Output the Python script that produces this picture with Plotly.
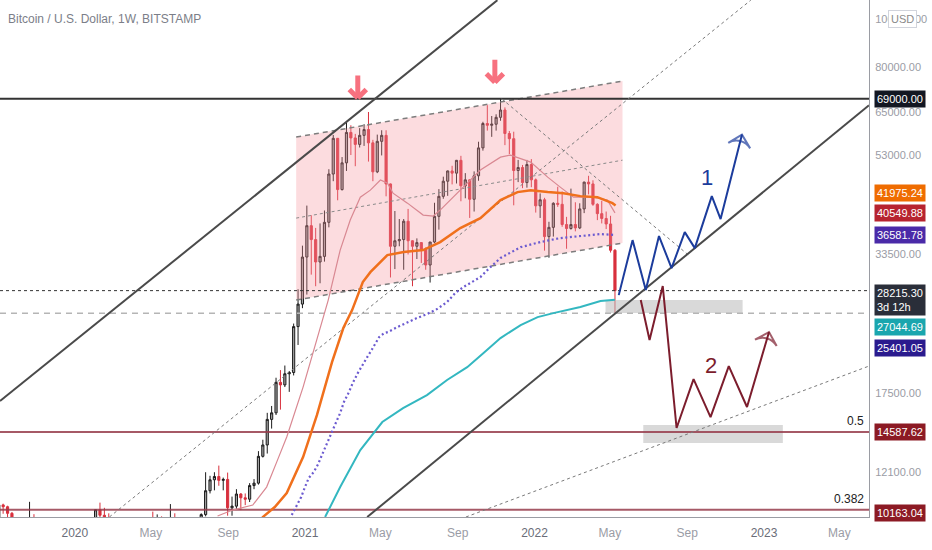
import numpy as np
import pandas as pd
import plotly.graph_objects as go

# ---------------- weekly candles (BITSTAMP BTCUSD, 1W) ----------------
open_2019 = [9600, 10390, 10300, 9990, 8240, 7870, 8290, 7960, 9250, 9200, 8800, 8480, 7050, 7400, 7520, 7080, 7200, 7300]
high_2019 = [10920, 10450, 10350, 10050, 8530, 8700, 8400, 10540, 9950, 9500, 9100, 8500, 7900, 7760, 7630, 7500, 7690, 7490]
low_2019 = [9590, 9970, 9600, 7710, 7750, 7750, 7880, 7300, 8970, 8680, 8340, 6550, 6600, 7080, 7040, 6420, 7100, 6870]
close_2019 = [10390, 10300, 9990, 8240, 7870, 8290, 7960, 9250, 9200, 8800, 8480, 7050, 7400, 7520, 7080, 7200, 7300, 7760]

open_2020 = [7760, 8190, 8900, 8600, 9330, 10160, 9900, 9690, 8540, 8040, 5360, 5830, 6400, 6780, 6900, 7120, 7700,
             8890, 8720, 9670, 8720, 9450, 9750, 9340, 9300, 9010, 9080, 9240, 9160, 9930, 11100, 11680, 11860, 11650,
             11700, 10250, 10330, 10930, 10740, 10670, 11370, 11500, 13030, 13740, 15480, 15960, 18400, 18180, 19150,
             19260, 23860, 26500]
high_2020 = [8460, 9190, 8990, 9560, 10160, 10500, 10250, 9990, 9200, 8170, 6900, 6980, 7200, 7470, 7300, 7790, 9470,
             10070, 9940, 9850, 9590, 10430, 9990, 9580, 9800, 9300, 9460, 9280, 9990, 12100, 11900, 12100, 12480, 11800,
             12080, 10800, 11180, 10980, 10960, 11500, 11720, 13350, 14080, 15960, 16480, 18800, 19480, 19900, 19400,
             24200, 28400, 34800]
low_2020 = [7690, 8100, 8230, 8540, 9130, 9700, 9300, 8450, 8000, 3850, 4450, 5690, 5860, 6770, 6470, 6800, 7640,
            8130, 8100, 8620, 8630, 9250, 8900, 9200, 8840, 8900, 9050, 9000, 9050, 9850, 10960, 11120, 11360, 11120,
            9880, 9880, 10200, 10140, 10380, 10530, 11180, 11420, 12960, 13200, 14830, 15800, 16200, 18000, 17600,
            19000, 21900, 26000]
close_2020 = [8190, 8900, 8600, 9330, 10160, 9900, 9690, 8540, 8040, 5360, 5830, 6400, 6780, 6900, 7120, 7700, 8890,
              8720, 9670, 8720, 9450, 9750, 9340, 9300, 9010, 9080, 9240, 9160, 9930, 11100, 11680, 11860, 11650, 11700,
              10250, 10330, 10930, 10740, 10670, 11370, 11500, 13030, 13740, 15480, 15960, 18400, 18180, 19150, 19260,
              23860, 26500, 33000]

open_2021 = [33000, 38200, 35800, 32250, 33100, 38800, 48600, 57400, 45200, 51200, 59000, 57500, 55800, 58200, 59800,
             56200, 49100, 56600, 58200, 46400, 34700, 35600, 35800, 39000, 35600, 34700, 35300, 34250, 31800, 35400,
             39900, 43800, 47000, 49300, 48800, 51800, 46000, 47300, 43200, 48200, 54900, 61500, 61000, 61300, 63300,
             65500, 58700, 57300, 49400, 50100, 46700, 50800]
high_2021 = [41950, 40100, 37800, 38600, 41000, 49700, 58300, 57500, 52600, 61800, 61000, 58600, 60200, 61300, 64900,
             57000, 58400, 59600, 59600, 46500, 40900, 39400, 39400, 41300, 35700, 36000, 35300, 34500, 35400, 42500,
             45300, 48000, 49400, 50500, 51900, 52900, 48800, 47400, 49200, 56500, 62000, 67000, 63700, 64200, 69000,
             66300, 59400, 59200, 51900, 50700, 51900, 52100]
low_2021 = [27700, 30400, 28800, 29200, 32300, 37900, 47000, 43000, 45000, 49300, 53100, 50400, 55000, 55400, 51500,
            47000, 48800, 53000, 43800, 30000, 31200, 34700, 31100, 33400, 28800, 32700, 32100, 31100, 29300, 35200,
            37500, 43300, 43900, 46300, 46500, 42800, 43400, 39600, 40800, 47100, 54200, 59500, 57800, 59500, 62300,
            55600, 53300, 42000, 46800, 45500, 45600, 45700]
close_2021 = [38200, 35800, 32250, 33100, 38800, 48600, 57400, 45200, 51200, 59000, 57500, 55800, 58200, 59800, 56200,
              49100, 56600, 58200, 46400, 34700, 35600, 35800, 39000, 35600, 34700, 35300, 34250, 31800, 35400, 39900,
              43800, 47000, 49300, 48800, 51800, 46000, 47300, 43200, 48200, 54900, 61500, 61000, 61300, 63300, 65500,
              58700, 57300, 49400, 50100, 46700, 50800, 47300]

open_2022 = [47300, 41900, 43100, 36300, 37900, 42400, 42200, 38400, 37700, 38400, 37800, 41300, 46800, 46400, 42200,
             40400, 39500, 38500, 34060]
high_2022 = [47600, 44400, 43500, 38900, 42600, 45800, 44800, 39800, 45400, 42600, 42400, 46900, 48200, 47200, 42400,
             42900, 40800, 40000, 34240]
low_2022 = [40600, 39600, 34000, 32900, 36300, 41700, 38000, 34300, 37500, 37200, 37600, 40500, 44200, 41900, 39200,
            38600, 37600, 33700, 25400]
close_2022 = [41900, 43100, 36300, 37900, 42400, 42200, 38400, 37700, 38400, 37800, 41300, 46800, 46400, 42200, 40400,
              39500, 38500, 34060, 28215.30]

opens = open_2019 + open_2020 + open_2021 + open_2022
highs = high_2019 + high_2020 + high_2021 + high_2022
lows = low_2019 + low_2020 + low_2021 + low_2022
closes = close_2019 + close_2020 + close_2021 + close_2022
week_dates = pd.date_range("2019-09-02", periods=len(closes), freq="7D")

# ---------------- indicator lines ----------------
orange_dates = ["2020-10-19", "2020-10-26", "2020-11-14", "2020-12-03", "2020-12-29", "2021-01-20", "2021-02-13",
                "2021-03-03", "2021-03-17", "2021-04-03", "2021-04-15", "2021-05-12", "2021-06-07", "2021-07-08",
                "2021-08-04", "2021-09-05", "2021-10-07", "2021-11-08", "2021-12-05", "2021-12-26", "2022-01-22",
                "2022-02-16", "2022-03-15", "2022-04-11", "2022-05-05", "2022-05-10"]
orange_vals = [9500, 9820, 10287, 10985, 12985, 15790, 20220, 23700, 25770, 29370, 30760, 33300, 33770, 34090,
               35380, 37770, 39570, 43040, 44670, 45080, 44670, 44450, 43840, 43630, 42430, 41975.24]

pink_dates = ["2020-08-15", "2020-09-08", "2020-10-10", "2020-11-01", "2020-11-17", "2020-12-03", "2020-12-29",
              "2021-01-25", "2021-02-07", "2021-02-26", "2021-03-14", "2021-03-30", "2021-04-15", "2021-05-01",
              "2021-05-12", "2021-05-21", "2021-06-13", "2021-07-08", "2021-07-24", "2021-08-04", "2021-09-05",
              "2021-10-07", "2021-11-08", "2021-11-24", "2021-12-26", "2022-01-22", "2022-02-11", "2022-03-04",
              "2022-04-05", "2022-04-27", "2022-05-09"]
pink_vals = [9865, 10143, 10385, 11290, 12685, 14256, 17995, 23480, 27000, 34090, 39210, 43630, 45080, 47250,
             46590, 44450, 42430, 40130, 39950, 41080, 45080, 49500, 52580, 53080, 51370, 47900, 45720, 43630,
             43630, 43040, 40549.88]

purple_dates = ["2020-12-11", "2020-12-18", "2020-12-26", "2021-01-01", "2021-01-07", "2021-01-15", "2021-01-22",
                "2021-01-28", "2021-02-05", "2021-02-13", "2021-02-19", "2021-02-26", "2021-03-04", "2021-03-12",
                "2021-03-18", "2021-03-26", "2021-04-02", "2021-04-10", "2021-04-16", "2021-04-22", "2021-04-29",
                "2021-05-07", "2021-05-13", "2021-05-28", "2021-06-13", "2021-06-28", "2021-07-14", "2021-07-30",
                "2021-08-15", "2021-08-28", "2021-09-10", "2021-09-24", "2021-10-07", "2021-10-23", "2021-11-08",
                "2021-12-10", "2022-01-10", "2022-02-11", "2022-03-15", "2022-04-16", "2022-05-09"]
purple_vals = [9910, 10287, 10780, 11290, 11776, 12111, 12570, 13110, 13800, 14590, 15220, 15950, 16790, 17590,
               18340, 19210, 19940, 20700, 21290, 22000, 22720, 23150, 23260, 23810, 24370, 24830, 25290, 25890,
               26750, 27900, 28690, 29370, 30060, 31490, 32850, 34560, 35380, 36050, 36390, 36730, 36581.78]

teal_dates = ["2021-02-02", "2021-02-26", "2021-03-30", "2021-05-04", "2021-06-06", "2021-07-14", "2021-08-15",
              "2021-09-16", "2021-10-12", "2021-11-08", "2021-12-10", "2022-01-06", "2022-01-31", "2022-03-15",
              "2022-04-16", "2022-05-09"]
teal_vals = [9820, 11290, 13420, 15290, 16320, 17340, 18600, 19750, 21090, 22620, 24030, 24940, 25410, 26140,
             26880, 27044.69]

# ---------------- drawings ----------------
channel_dates = ["2020-12-18", "2022-05-21", "2022-05-21", "2020-12-18"]
channel_vals = [57730, 74950, 35220, 27000]
channel_mid_vals = [39570, 51840]

upper_trend_dates = ["2019-09-04", "2021-11-03"]
upper_trend_vals = [16860, 109300]
lower_trend_dates = ["2021-04-10", "2023-06-17"]
lower_trend_vals = [9820, 67000]

dot_up_dates = ["2020-02-25", "2022-12-11"]
dot_up_vals = [9820, 109300]
dot_down_dates = ["2021-11-10", "2022-09-03"]
dot_down_vals = [69000, 33300]
dot_low_dates = ["2021-09-14", "2023-06-17"]
dot_low_vals = [9820, 19850]

path1_dates = ["2022-05-15", "2022-06-06", "2022-06-27", "2022-07-18", "2022-08-07", "2022-08-28", "2022-09-13",
               "2022-10-10", "2022-10-24", "2022-11-27"]
path1_vals = [27630, 35710, 28290, 36390, 31340, 37070, 34400, 43840, 39390, 58400]
path2_dates = ["2022-06-19", "2022-07-03", "2022-07-24", "2022-08-15", "2022-09-11", "2022-10-08", "2022-11-06",
               "2022-12-05", "2023-01-09"]
path2_vals = [27000, 22410, 28820, 14870, 18680, 15650, 19850, 16400, 23260]

box1_dates = ["2022-04-24", "2022-11-28"]
box1_vals = [25410, 27000]
box2_dates = ["2022-06-23", "2023-01-31"]
box2_vals = [13870, 15080]

marker_dates = ["2021-03-26", "2021-10-30"]
marker_vals = [69300, 74580]

level_ath = 69000.0
level_last = 28215.30
level_low = 25401.05
fib_levels = [14587.62, 10163.04]
fib_names = ["0.5", "0.382"]

x_start, x_end = "2019-09-04", "2023-06-17"
y_min, y_max = 9820, 109400

xtick_vals = ["2020-01-01", "2020-05-01", "2020-09-01", "2021-01-01", "2021-05-01", "2021-09-01",
              "2022-01-01", "2022-05-01", "2022-09-01", "2023-01-01", "2023-05-01"]
xtick_text = ["2020", "May", "Sep", "2021", "May", "Sep", "2022", "May", "Sep", "2023", "May"]
ytick_vals = [100000, 80000, 65000, 53000, 33500, 17500, 12100]

# right-hand price tags: value, background, pixel nudge
tag_vals = [69000.00, 41975.24, 40549.88, 36581.78, 27044.69, 25401.05, 14587.62, 10163.04]
tag_colors = ["#131722", "#ef6c00", "#b7232f", "#4a2aa8", "#1aa6ae", "#2a1b8e", "#8c1a24", "#8c1a24"]
tag_shift = [0, 12, 0, 0, -27, -35, 0, -3]

FONT = "Liberation Sans, Arial, sans-serif"

fig = go.Figure()

# channel
fig.add_trace(go.Scatter(x=channel_dates, y=channel_vals, fill="toself", mode="none",
                         fillcolor="rgba(246,150,158,0.33)", hoverinfo="skip"))
fig.add_trace(go.Scatter(x=channel_dates[:2], y=channel_vals[:2], mode="lines",
                         line=dict(color="#7d7d7d", width=1.5, dash="5px,4px")))
fig.add_trace(go.Scatter(x=channel_dates[3:1:-1], y=channel_vals[3:1:-1], mode="lines",
                         line=dict(color="#7d7d7d", width=1.5, dash="5px,4px")))
fig.add_trace(go.Scatter(x=channel_dates[3:1:-1], y=channel_mid_vals, mode="lines",
                         line=dict(color="#8a8a8a", width=1, dash="dot")))

# gray target boxes
for bd, bv in [(box1_dates, box1_vals), (box2_dates, box2_vals)]:
    fig.add_trace(go.Scatter(x=[bd[0], bd[1], bd[1], bd[0]], y=[bv[0], bv[0], bv[1], bv[1]], fill="toself",
                             mode="none", fillcolor="rgba(185,185,185,0.55)"))

# horizontal levels
fig.add_trace(go.Scatter(x=[x_start, x_end], y=[level_last] * 2, mode="lines",
                         line=dict(color="#333333", width=1, dash="dot")))
fig.add_trace(go.Scatter(x=[x_start, x_end], y=[level_low] * 2, mode="lines",
                         line=dict(color="#b5b5b5", width=1.5, dash="6px,5px")))
for fl in fib_levels:
    fig.add_trace(go.Scatter(x=[x_start, x_end], y=[fl] * 2, mode="lines",
                             line=dict(color="rgba(150,60,75,0.85)", width=2)))
fig.add_trace(go.Scatter(x=[x_start, x_end], y=[level_ath] * 2, mode="lines",
                         line=dict(color="#333333", width=2)))

# diagonal trend lines
for d, v in [(dot_up_dates, dot_up_vals), (dot_down_dates, dot_down_vals), (dot_low_dates, dot_low_vals)]:
    fig.add_trace(go.Scatter(x=d, y=v, mode="lines", line=dict(color="#7a7a7a", width=1, dash="dot")))
for d, v in [(upper_trend_dates, upper_trend_vals), (lower_trend_dates, lower_trend_vals)]:
    fig.add_trace(go.Scatter(x=d, y=v, mode="lines", line=dict(color="#4a4a4a", width=2)))

# candles
fig.add_trace(go.Candlestick(x=week_dates, open=opens, high=highs, low=lows, close=closes,
                             increasing=dict(line=dict(color="#1b1b1b", width=1), fillcolor="#a3a3a3"),
                             decreasing=dict(line=dict(color="#d8303d", width=1), fillcolor="#d8303d"),
                             whiskerwidth=0, showlegend=False))

# moving averages
fig.add_trace(go.Scatter(x=teal_dates, y=teal_vals, mode="lines", line=dict(color="#33b7c0", width=2)))
fig.add_trace(go.Scatter(x=purple_dates, y=purple_vals, mode="lines",
                         line=dict(color="#6c5bd0", width=2.2, dash="2px,2.6px")))
fig.add_trace(go.Scatter(x=pink_dates, y=pink_vals, mode="lines", line=dict(color="#d98892", width=1.2)))
fig.add_trace(go.Scatter(x=orange_dates, y=orange_vals, mode="lines", line=dict(color="#f0701c", width=2.5)))

# projected paths
for d, v, c in [(path1_dates, path1_vals, "#1c3c9c"), (path2_dates, path2_vals, "#7c1d2d")]:
    sizes = [0] * (len(d) - 1) + [16]
    fig.add_trace(go.Scatter(x=d, y=v, mode="lines+markers", line=dict(color=c, width=2),
                             marker=dict(symbol="arrow-wide-open", size=sizes, angleref="previous",
                                         color=c, line=dict(color=c, width=2))))

annotations = []
annotations.append(dict(x="2022-10-02", y=np.log10(47900), text="1", showarrow=False,
                        font=dict(size=22, color="#1c3c9c", family=FONT)))
annotations.append(dict(x="2022-10-08", y=np.log10(19940), text="2", showarrow=False,
                        font=dict(size=22, color="#7c1d2d", family=FONT)))

# red down arrows: stem plus two chevron arms ending at the tip
for d, v in zip(marker_dates, marker_vals):
    for ax, ay in [(0, -24), (-10, -10), (10, -10)]:
        annotations.append(dict(x=d, y=np.log10(v), ax=ax, ay=ay, text="", showarrow=True, arrowhead=0,
                                arrowwidth=5, arrowcolor="#f7717f", standoff=0, startstandoff=0))

# fib labels
for fl, nm in zip(fib_levels, fib_names):
    annotations.append(dict(xref="paper", x=1, xanchor="right", xshift=-3, y=np.log10(fl), yanchor="bottom",
                            yshift=2, text=nm, showarrow=False, font=dict(size=12, color="#222", family=FONT)))

# price tags
for v, c, s in zip(tag_vals, tag_colors, tag_shift):
    annotations.append(dict(xref="paper", x=1, xanchor="left", xshift=5, y=np.log10(v), yshift=s,
                            text=f"{v:.2f}", showarrow=False, bgcolor=c, borderpad=2,
                            font=dict(size=11, color="white", family=FONT)))
annotations.append(dict(xref="paper", x=1, xanchor="left", xshift=5, y=np.log10(level_last), yshift=-9,
                        text=f"{level_last:.2f}<br>3d 12h", align="left", showarrow=False, bgcolor="#2a2e39",
                        borderpad=2, font=dict(size=11, color="white", family=FONT)))
annotations.append(dict(xref="paper", x=1, xanchor="left", xshift=19, y=np.log10(100000), text="USD",
                        showarrow=False, bgcolor="white", bordercolor="#d1d4dc", borderwidth=1, borderpad=2,
                        font=dict(size=11, color="#8a8a8a", family=FONT)))
annotations.append(dict(xref="paper", yref="paper", x=0, y=1, xanchor="left", yanchor="top", xshift=6, yshift=-10,
                        text="Bitcoin / U.S. Dollar, 1W, BITSTAMP", showarrow=False,
                        font=dict(size=12, color="#7b7e88", family=FONT)))

xtick_html = [f"<span style='color:#6a6d78'>{t}</span>" if t.isdigit() else t for t in xtick_text]

fig.update_layout(
    width=932, height=550, margin=dict(l=0, r=63, t=0, b=33),
    paper_bgcolor="white", plot_bgcolor="white", showlegend=False,
    font=dict(family=FONT, size=12, color="#8f929b"),
    annotations=annotations,
    xaxis=dict(type="date", range=[x_start, x_end], showgrid=False, zeroline=False, rangeslider=dict(visible=False),
               tickvals=xtick_vals, ticktext=xtick_html, ticks="outside", ticklen=5, tickcolor="rgba(0,0,0,0)",
               showline=True, linecolor="#9a9ca3",
               linewidth=1, tickfont=dict(size=12, color="#9a9ca5", family=FONT)),
    yaxis=dict(type="log", range=[np.log10(y_min), np.log10(y_max)], side="right", showgrid=False,
               zeroline=False, tickvals=ytick_vals, ticktext=[f"{v:.2f}" for v in ytick_vals], ticks="outside",
               ticklen=3, tickcolor="rgba(0,0,0,0)",
               showline=True, linecolor="#9a9ca3", linewidth=1, mirror=False,
               tickfont=dict(size=11, color="#9a9ca5", family=FONT)),
)
fig.write_html("out.html", config={"displayModeBar": False},
               post_script="document.body.style.margin='0px';document.body.style.overflow='hidden';")
